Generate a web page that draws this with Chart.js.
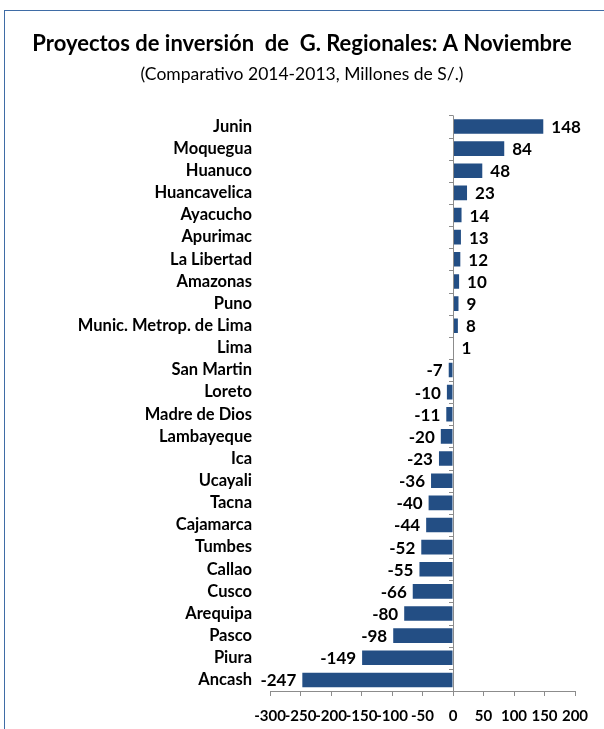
<!DOCTYPE html>
<html>
<head>
<meta charset="utf-8">
<script src="https://cdn.jsdelivr.net/npm/chart.js@4/dist/chart.umd.min.js"></script>
<style>
  body { margin: 0; background: #fff; }
  #wrap { position: relative; width: 604px; height: 729px; }
  #frame { position: absolute; left: 4px; top: 10px; right: -2px; bottom: -2px;
           border-left: 1px solid #3f6ca6; border-top: 1px solid #3f6ca6; pointer-events: none; }
  canvas { position: absolute; left: 0; top: 0; }
</style>
</head>
<body>
<div id="wrap">
  <canvas id="regionChart" width="604" height="729"></canvas>
  <div id="frame"></div>
</div>
<script>
const regiones = ['Junin', 'Moquegua', 'Huanuco', 'Huancavelica', 'Ayacucho', 'Apurimac',
  'La Libertad', 'Amazonas', 'Puno', 'Munic. Metrop. de Lima', 'Lima', 'San Martin',
  'Loreto', 'Madre de Dios', 'Lambayeque', 'Ica', 'Ucayali', 'Tacna', 'Cajamarca',
  'Tumbes', 'Callao', 'Cusco', 'Arequipa', 'Pasco', 'Piura', 'Ancash'];
const variacion = [148, 84, 48, 23, 14, 13, 12, 10, 9, 8, 1, -7, -10, -11, -20, -23,
  -36, -40, -44, -52, -55, -66, -80, -98, -149, -247];
const ejeMin = -300;
const ejeMax = 200;
const ejePaso = 50;

const titulo = 'Proyectos de inversión  de  G. Regionales: A Noviembre';
const subtitulo = '(Comparativo 2014-2013, Millones de S/.)';

// linea del cero con marcas entre categorias + etiquetas de valor
const zeroAxis = {
  id: 'zeroAxis',
  afterDatasetsDraw(chart) {
    const ctx = chart.ctx;
    const x = chart.scales.x.getPixelForValue(0);
    const area = chart.chartArea;
    ctx.save();
    ctx.strokeStyle = '#8c8c8c';
    ctx.lineWidth = 1;
    ctx.beginPath();
    ctx.moveTo(x + 0.5, area.top);
    ctx.lineTo(x + 0.5, area.bottom);
    const step = (area.bottom - area.top) / regiones.length;
    for (let i = 0; i <= regiones.length; i++) {
      const yy = Math.round(area.top + i * step) + 0.5;
      ctx.moveTo(x - 4, yy);
      ctx.lineTo(x, yy);
    }
    ctx.stroke();

    ctx.fillStyle = '#000';
    ctx.font = 'bold 17px Lato';
    ctx.textBaseline = 'middle';
    const meta = chart.getDatasetMeta(0);
    meta.data.forEach(function (bar, i) {
      const v = variacion[i];
      if (v >= 0) {
        ctx.textAlign = 'left';
        ctx.fillText(String(v), bar.x + 8, bar.y + 1);
      } else {
        ctx.textAlign = 'right';
        ctx.fillText(String(v), bar.x - 6, bar.y + 1);
      }
    });
    ctx.restore();
  }
};

const ctx = document.getElementById('regionChart').getContext('2d');
new Chart(ctx, {
  type: 'bar',
  data: {
    labels: regiones,
    datasets: [{
      data: variacion,
      backgroundColor: '#234e84',
      borderWidth: 0,
      barPercentage: 0.66,
      categoryPercentage: 1.0
    }]
  },
  options: {
    indexAxis: 'y',
    responsive: false,
    animation: false,
    layout: { padding: { left: 0, right: 0, top: 0, bottom: -7 } },
    scales: {
      x: {
        min: ejeMin,
        max: ejeMax,
        afterFit(scale) { scale.paddingRight = 29; },
        border: { display: true, color: '#8c8c8c' },
        grid: { display: true, drawOnChartArea: false, drawTicks: true, tickLength: 5, color: '#8c8c8c' },
        ticks: {
          stepSize: ejePaso,
          autoSkip: false,
          maxRotation: 0,
          padding: 11,
          color: '#000',
          font: { family: 'Lato', weight: 'bold', size: 15 }
        }
      },
      y: {
        border: { display: false },
        grid: { display: false, drawTicks: false },
        afterFit(scale) {
          scale.width = 270;
          scale.paddingTop = 0;
          scale.paddingBottom = 0;
        },
        ticks: {
          autoSkip: false,
          padding: 18,
          color: '#000',
          font: { family: 'Lato', weight: 'bold', size: 16.5 }
        }
      }
    },
    plugins: {
      legend: { display: false },
      tooltip: { enabled: false },
      title: {
        display: true,
        text: titulo,
        color: '#000',
        font: { family: 'Lato', weight: 'bold', size: 22 },
        padding: { top: 31, bottom: 5 }
      },
      subtitle: {
        display: true,
        text: subtitulo,
        color: '#000',
        font: { family: 'Lato', weight: 'normal', size: 17.5 },
        padding: { top: 1, bottom: 31 }
      }
    }
  },
  plugins: [zeroAxis]
});
</script>
</body>
</html>
